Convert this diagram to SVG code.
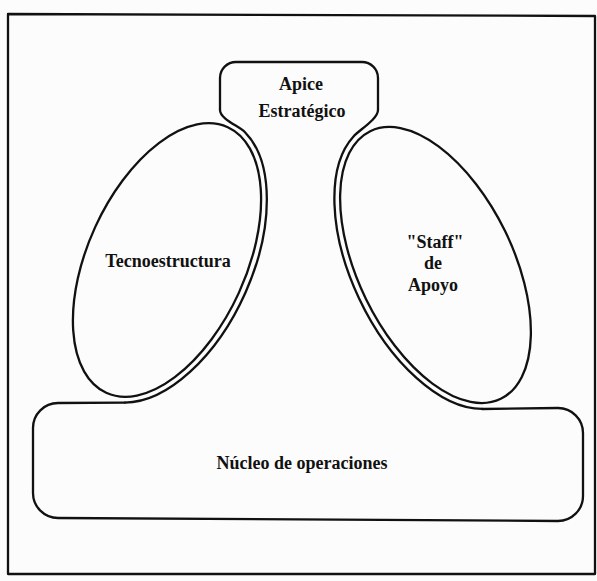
<svg xmlns="http://www.w3.org/2000/svg" width="597" height="581" viewBox="0 0 597 581">
<style>
.ln{fill:none;stroke:#111;stroke-width:2.3;stroke-linecap:round;stroke-linejoin:round}
.t{font-family:"Liberation Serif","Times New Roman",serif;font-weight:bold;font-size:18px;fill:#111;text-anchor:middle}
</style>
<rect width="597" height="581" fill="#fcfcfc"/>
<g id="frame"><path class="ln" d="M8,14 L595,16 L595,574 L8,574 Z"/></g>
<g id="apice">
<path class="ln" d="M220,110 L220,78 A16,16 0 0 1 236,62 L362,62 A16,16 0 0 1 378,78 L378,110"/>
<text class="t" x="301" y="90">Apice</text>
<text class="t" x="302" y="117">Estratégico</text>
</g>
<g id="tecnoestructura">
<ellipse class="ln" cx="167" cy="260" rx="79" ry="146" transform="rotate(24.6 167 260)"/>
<text class="t" x="168" y="267">Tecnoestructura</text>
</g>
<g id="staff">
<ellipse class="ln" cx="435.5" cy="265" rx="77.4" ry="148.9" transform="rotate(-26 435.5 265)"/>
<text class="t" x="435" y="248">"Staff"</text>
<text class="t" x="433" y="269">de</text>
<text class="t" x="433" y="291">Apoyo</text>
</g>
<g id="nucleo">
<path class="ln" d="M125,402.6 L58,403 A25,25 0 0 0 33,428 L33,493 A25,25 0 0 0 58,518 L558,521 A25,25 0 0 0 583,496 L583,433 A25,25 0 0 0 558,408 L482,409"/>
<text class="t" x="302" y="469">Núcleo de operaciones</text>
</g>
<g id="connectors">
<path class="ln" d="M220,110 C220,119 239,126.1 245,132.2 A85,152 24.6 0 1 124.9,402.6"/>
<path class="ln" d="M378,110 C378,119 359.5,129.8 353.5,136.4 A83.4,154.9 -26 0 0 482.1,408.9"/>
</g>
</svg>
